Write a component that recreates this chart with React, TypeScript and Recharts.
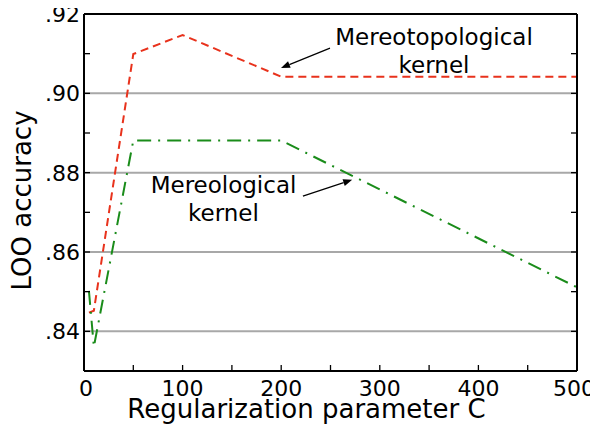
import React from "react";
import { LineChart, Line, XAxis, YAxis, ReferenceLine, ReferenceDot, Label } from "recharts";

const cValues = [5, 10, 50, 100, 200, 500];
const mereotopological = [0.8447, 0.8452, 0.9099, 0.9147, 0.9042, 0.9042];
const mereological = [0.8502, 0.8361, 0.8881, 0.8881, 0.8881, 0.8511];
const xTicks = [0, 50, 100, 150, 200, 250, 300, 350, 400, 450, 500];
const yTicks = [0.83, 0.84, 0.85, 0.86, 0.87, 0.88, 0.89, 0.9, 0.91, 0.92];
const gridValues = [0.84, 0.86, 0.88, 0.9];

const rows = cValues.map((c, i) => ({ c, topo: mereotopological[i], mereo: mereological[i] }));

const FONT = "'DejaVu Sans', sans-serif";
const TICK_LEN = 6;

const XTickBottom = (p: any) => {
  const v = p.payload.value;
  return (
    <g>
      <line x1={p.x} y1={p.y} x2={p.x} y2={p.y - TICK_LEN} stroke="#000" strokeWidth={1.3} />
      {v % 100 === 0 && (
        <text
          x={p.x}
          y={p.y + 25}
          dx={v === 500 ? -3 : v === 0 ? 2 : 0}
          textAnchor="middle"
          fontSize={22}
          fontFamily={FONT}
          fill="#000"
        >
          {v}
        </text>
      )}
    </g>
  );
};
const XTickTop = (p: any) => (
  <line x1={p.x} y1={p.y} x2={p.x} y2={p.y + TICK_LEN} stroke="#000" strokeWidth={1.3} />
);
const YTickLeft = (p: any) => {
  const v = p.payload.value;
  const lab = Math.round(v * 100) % 2 === 0;
  return (
    <g>
      <line x1={p.x} y1={p.y} x2={p.x + TICK_LEN} y2={p.y} stroke="#000" strokeWidth={1.3} />
      {lab && (
        <text x={p.x - 4} y={p.y} dy="0.36em" textAnchor="end" fontSize={22} fontFamily={FONT} fill="#000">
          {v.toFixed(2).replace(/^0/, "")}
        </text>
      )}
    </g>
  );
};
const YTickRight = (p: any) => (
  <line x1={p.x} y1={p.y} x2={p.x - TICK_LEN} y2={p.y} stroke="#000" strokeWidth={1.3} />
);

const arrowShape = (p: any) => {
  const { x1, y1, x2, y2 } = p;
  const ang = Math.atan2(y2 - y1, x2 - x1);
  const L = 9, W = 3.5;
  const bx = x2 - L * Math.cos(ang), by = y2 - L * Math.sin(ang);
  const px = -Math.sin(ang) * W, py = Math.cos(ang) * W;
  return (
    <g>
      <line x1={x1} y1={y1} x2={bx} y2={by} stroke="#000" strokeWidth={1.2} />
      <polygon points={`${x2},${y2} ${bx + px},${by + py} ${bx - px},${by - py}`} fill="#000" />
    </g>
  );
};

const textShape = (lines: string[]) => (p: any) => (
  <text x={p.cx} y={p.cy} textAnchor="middle" fontSize={23} fontFamily={FONT} fill="#000">
    {lines.map((l, i) => (
      <tspan key={i} x={p.cx} dy={i === 0 ? 0 : 28}>
        {l}
      </tspan>
    ))}
  </text>
);

export default function App() {
  return (
    <div style={{ margin: "-8px 0 0 -8px", width: 598, height: 429 }}>
      <LineChart
        width={598}
        height={429}
        data={rows}
        margin={{ top: 13, right: 20, bottom: 0, left: 0 }}
        style={{ fontFamily: FONT }}
      >
        <XAxis
          dataKey="c"
          type="number"
          domain={[0, 500]}
          allowDataOverflow
          ticks={xTicks}
          interval={0}
          height={58}
          tickSize={0}
          tickMargin={0}
          tickLine={false}
          tick={XTickBottom}
          axisLine={{ stroke: "#000", strokeWidth: 2 }}
        >
          <Label
            content={(props: any) => {
              const vb = props.viewBox;
              return (
                <text x={vb.x + vb.width / 2 - 24} y={vb.y + 47} textAnchor="middle" fontSize={26} fontFamily={FONT} fill="#000">
                  Regularization parameter C
                </text>
              );
            }}
          />
        </XAxis>
        <XAxis
          xAxisId="top"
          orientation="top"
          type="number"
          domain={[0, 500]}
          allowDataOverflow
          ticks={xTicks}
          interval={0}
          height={1}
          tickSize={0}
          tickMargin={0}
          tickLine={false}
          tick={XTickTop}
          axisLine={{ stroke: "#000", strokeWidth: 2 }}
        />
        <YAxis
          type="number"
          domain={[0.83, 0.92]}
          allowDataOverflow
          ticks={yTicks}
          interval={0}
          width={84}
          tickSize={0}
          tickMargin={0}
          tickLine={false}
          tick={YTickLeft}
          axisLine={{ stroke: "#000", strokeWidth: 2 }}
        >
          <Label
            content={(props: any) => {
              const vb = props.viewBox;
              const cx = 21.5;
              const cy = vb.y + vb.height / 2 + 8;
              return (
                <text
                  x={cx}
                  y={cy}
                  transform={`rotate(-90 ${cx} ${cy})`}
                  textAnchor="middle"
                  dominantBaseline="central"
                  fontSize={26}
                  fontFamily={FONT}
                  fill="#000"
                >
                  LOO accuracy
                </text>
              );
            }}
          />
        </YAxis>
        <YAxis
          yAxisId="right"
          orientation="right"
          type="number"
          domain={[0.83, 0.92]}
          allowDataOverflow
          ticks={yTicks}
          interval={0}
          width={1}
          tickSize={0}
          tickMargin={0}
          tickLine={false}
          tick={YTickRight}
          axisLine={{ stroke: "#000", strokeWidth: 2 }}
        />
        {gridValues.map((g) => (
          <ReferenceLine key={g} y={g} stroke="#a8a8a8" strokeWidth={2} />
        ))}
        <Line
          dataKey="topo"
          type="linear"
          stroke="#e8321c"
          strokeWidth={2}
          strokeDasharray="8 5"
          dot={false}
          isAnimationActive={false}
        />
        <Line
          dataKey="mereo"
          type="linear"
          stroke="#1a8c1a"
          strokeWidth={2}
          strokeDasharray="14 7 2 7"
          dot={false}
          isAnimationActive={false}
        />
        <ReferenceLine
          segment={[
            { x: 249.5, y: 0.9114 },
            { x: 199.8, y: 0.9064 },
          ]}
          shape={arrowShape}
        />
        <ReferenceLine
          segment={[
            { x: 222, y: 0.8741 },
            { x: 272, y: 0.8782 },
          ]}
          shape={arrowShape}
        />
        <ReferenceDot x={355} y={0.9122} r={0} shape={textShape(["Mereotopological", "kernel"])} />
        <ReferenceDot x={141.5} y={0.8749} r={0} shape={textShape(["Mereological", "kernel"])} />
      </LineChart>
    </div>
  );
}
